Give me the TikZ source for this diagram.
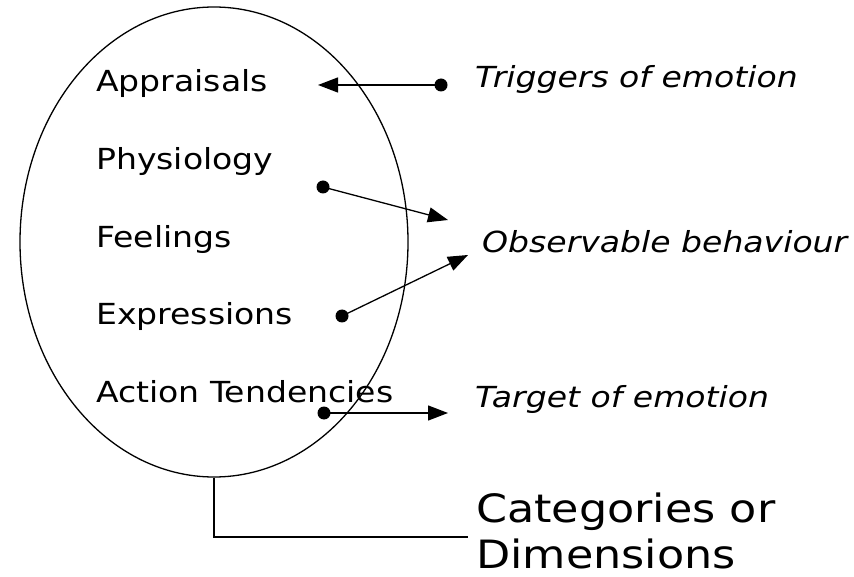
\documentclass[tikz,border=0pt]{standalone}
\usepackage{fontspec}
\setmainfont{DejaVu Sans}
\usetikzlibrary{arrows.meta,shapes.geometric}
\newcommand\widetext[1]{\scalebox{1.14}[1]{#1}}
\tikzset{
  lbl/.style={anchor=base west, inner sep=0pt, font=\fontsize{29}{34}\selectfont},
  ilbl/.style={lbl, font=\fontsize{29}{34}\selectfont\itshape},
  big/.style={anchor=base west, inner sep=0pt, font=\fontsize{39}{46}\selectfont},
  dotnode/.style={circle, fill=black, inner sep=0pt, minimum size=13pt},
  arr/.style={line width=1.3pt, -{Triangle[length=20pt,width=15pt]}},
  thin line/.style={line width=1.3pt}
}
\begin{document}
\begin{tikzpicture}[x=1pt,y=-1pt]
\useasboundingbox (0,0) rectangle (854,577);
% ellipse
\node[draw, thin line, ellipse, minimum width=388pt, minimum height=470pt, inner sep=0pt] (E) at (214,242) {};
% left labels
\node[lbl] (app) at (96,92) {\widetext{Appraisals}};
\node[lbl] (phy) at (96,170) {\widetext{Physiology}};
\node[lbl] (fee) at (96,248) {\widetext{Feelings}};
\node[lbl] (exp) at (96,325) {\widetext{Expressions}};
\node[lbl] (act) at (96,402) {\widetext{Action Tendencies}};
% right labels
\node[ilbl] (trig) at (475,88) {\widetext{Triggers of emotion}};
\node[ilbl] (obs) at (482,253) {\widetext{Observable behaviour}};
\node[ilbl] (targ) at (475,407) {\widetext{Target of emotion}};
% dots
\node[dotnode] (d1) at (441,85) {};
\node[dotnode] (d2) at (323,187) {};
\node[dotnode] (d3) at (342,316) {};
\node[dotnode] (d4) at (324,413) {};
% arrow tips
\coordinate (t1) at (318,85);
\coordinate (t2) at (448,220);
\coordinate (t3) at (468,255);
\coordinate (t4) at (448,413);
\draw[arr] (d1.center) -- (t1);
\draw[arr] (d2.center) -- (t2);
\draw[arr] (d3.center) -- (t3);
\draw[arr] (d4.center) -- (t4);
% bottom label
\node[big] (cat) at (476,522) {\widetext{Categories or}};
\node[big] (dim) at (476,568) {\widetext{Dimensions}};
\coordinate (c1) at (468,537);
\draw[thin line] (E.south) |- (c1);
\end{tikzpicture}
\end{document}
